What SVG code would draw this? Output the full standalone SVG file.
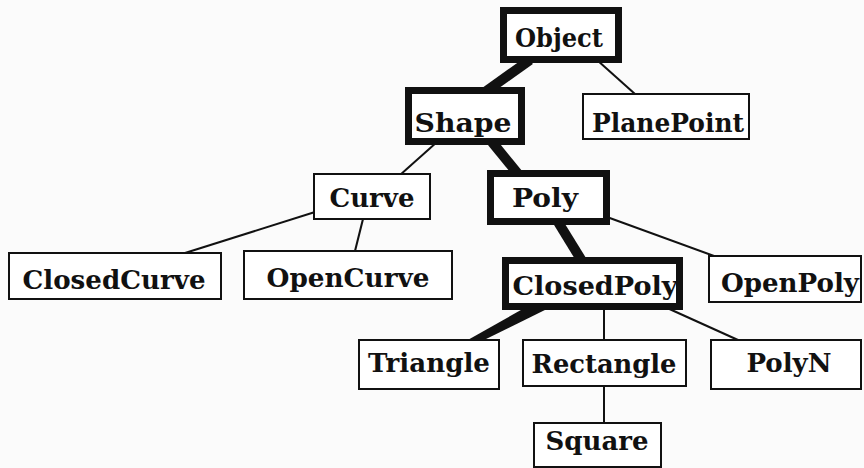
<svg xmlns="http://www.w3.org/2000/svg" width="864" height="468" viewBox="0 0 864 468">
  <style>
    .box { fill: #ffffff; stroke: #111111; stroke-width: 2; }
    .box.main { stroke-width: 7; }
    .lbl { font-family: "DejaVu Serif", "Liberation Serif", serif; font-weight: bold; font-size: 26px; fill: #111111; text-anchor: middle; }
    .link { stroke: #111111; stroke-width: 2; fill: none; }
    .link.main { stroke-width: 10; }
  </style>
  <rect width="864" height="468" fill="#fbfbfb"/>

  <!-- class hierarchy edges -->
  <g id="connectors">
    <line class="link main" x1="530" y1="60" x2="485" y2="92"/>
    <line class="link" x1="597" y1="60" x2="635" y2="94"/>
    <line class="link" x1="437" y1="142" x2="400" y2="175"/>
    <line class="link main" x1="492" y1="142" x2="518" y2="174"/>
    <line class="link" x1="315" y1="212" x2="185" y2="253" stroke-width="2.5"/>
    <line class="link" x1="363" y1="219" x2="355" y2="251"/>
    <line class="link main" x1="558" y1="222" x2="582" y2="261"/>
    <line class="link" x1="607" y1="217" x2="714" y2="256"/>
    <polygon points="528,306 553,306 482,341 466,341" fill="#111111"/>
    <line class="link" x1="604" y1="307" x2="604" y2="340"/>
    <line class="link" x1="665" y1="307" x2="738" y2="340"/>
    <line class="link" x1="604" y1="386" x2="604" y2="423"/>
  </g>

  <g id="node-object">
    <rect class="box main" x="503.5" y="10.5" width="115" height="49"/>
    <text class="lbl" x="559" y="47" textLength="88" lengthAdjust="spacingAndGlyphs">Object</text>
  </g>
  <g id="node-shape">
    <rect class="box main" x="408.5" y="90.5" width="113" height="51"/>
    <text class="lbl" x="463" y="132" textLength="97" lengthAdjust="spacingAndGlyphs">Shape</text>
  </g>
  <g id="node-planepoint">
    <rect class="box" x="583" y="94" width="166" height="45"/>
    <text class="lbl" x="668" y="132" textLength="152" lengthAdjust="spacingAndGlyphs">PlanePoint</text>
  </g>
  <g id="node-curve">
    <rect class="box" x="314" y="174" width="116" height="45"/>
    <text class="lbl" x="372" y="207" textLength="85" lengthAdjust="spacingAndGlyphs">Curve</text>
  </g>
  <g id="node-poly">
    <rect class="box main" x="490.5" y="173.5" width="116" height="48"/>
    <text class="lbl" x="545" y="207" textLength="66" lengthAdjust="spacingAndGlyphs">Poly</text>
  </g>
  <g id="node-closedcurve">
    <rect class="box" x="9" y="253" width="212" height="46"/>
    <text class="lbl" x="114" y="289" textLength="183" lengthAdjust="spacingAndGlyphs">ClosedCurve</text>
  </g>
  <g id="node-opencurve">
    <rect class="box" x="244" y="251" width="208" height="48"/>
    <text class="lbl" x="348" y="287" textLength="163" lengthAdjust="spacingAndGlyphs">OpenCurve</text>
  </g>
  <g id="node-closedpoly">
    <rect class="box main" x="505.5" y="260.5" width="174" height="46"/>
    <text class="lbl" x="595" y="295" textLength="165" lengthAdjust="spacingAndGlyphs">ClosedPoly</text>
  </g>
  <g id="node-openpoly">
    <rect class="box" x="709" y="256" width="152" height="46"/>
    <text class="lbl" x="790" y="292" textLength="138" lengthAdjust="spacingAndGlyphs">OpenPoly</text>
  </g>
  <g id="node-triangle">
    <rect class="box" x="359" y="340" width="140" height="49"/>
    <text class="lbl" x="429" y="372" textLength="122" lengthAdjust="spacingAndGlyphs">Triangle</text>
  </g>
  <g id="node-rectangle">
    <rect class="box" x="523" y="340" width="163" height="46"/>
    <text class="lbl" x="604" y="373" textLength="145" lengthAdjust="spacingAndGlyphs">Rectangle</text>
  </g>
  <g id="node-polyn">
    <rect class="box" x="711" y="340" width="150" height="49"/>
    <text class="lbl" x="789" y="372" textLength="85" lengthAdjust="spacingAndGlyphs">PolyN</text>
  </g>
  <g id="node-square">
    <rect class="box" x="534" y="423" width="127" height="44"/>
    <text class="lbl" x="597" y="450" textLength="103" lengthAdjust="spacingAndGlyphs">Square</text>
  </g>
</svg>
